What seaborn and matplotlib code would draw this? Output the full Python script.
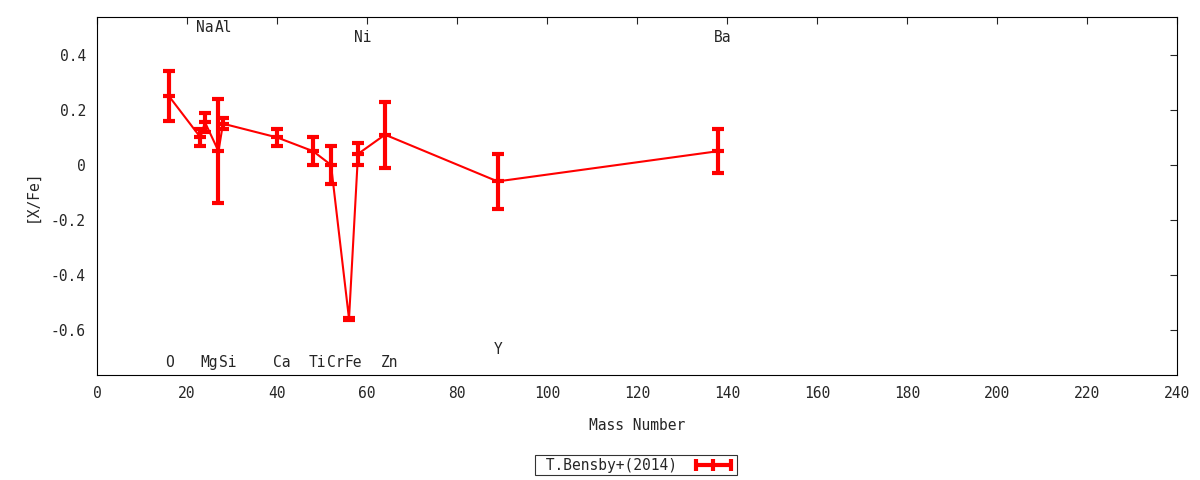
import numpy as np
import pandas as pd
import matplotlib
matplotlib.use("Agg")
import matplotlib.pyplot as plt
import seaborn as sns
from matplotlib.lines import Line2D

# T.Bensby+(2014) abundances
elements = ["O", "Na", "Mg", "Al", "Si", "Ca", "Ti", "Cr", "Fe", "Ni", "Zn", "Y", "Ba"]
mass = [16, 23, 24, 27, 28, 40, 48, 52, 56, 58, 64, 89, 138]
x_fe = [0.25, 0.10, 0.155, 0.05, 0.15, 0.10, 0.05, 0.0, -0.56, 0.04, 0.11, -0.06, 0.05]
x_fe_err = [0.09, 0.03, 0.035, 0.19, 0.02, 0.03, 0.05, 0.07, 0.005, 0.04, 0.12, 0.10, 0.08]
# y position of each element label
label_y = [-0.72, 0.50, -0.72, 0.50, -0.72, -0.72, -0.72, -0.72, -0.72, 0.465, -0.72, -0.67, 0.465]

df = pd.DataFrame({"mass": mass, "xfe": x_fe, "err": x_fe_err, "el": elements})

sns.set_style("white")
plt.rcParams["font.family"] = ["DejaVu Sans Mono"]
plt.rcParams["font.size"] = 10

fig = plt.figure(figsize=(12, 4.8), dpi=100)
ax = fig.add_axes([0.0808, 0.2188, 0.9002, 0.7458])

red = "#ff0000"
sns.lineplot(data=df, x="mass", y="xfe", ax=ax, color=red, lw=1.5, sort=False)
ax.errorbar(df["mass"], df["xfe"], yerr=df["err"], fmt="none", ecolor=red,
            elinewidth=3, capsize=4.3, capthick=3)
ax.plot(df["mass"], df["xfe"], ls="none", marker="_", ms=9, mew=3, color=red)

for el, mx, ly in zip(elements, mass, label_y):
    ax.annotate(el, (mx, ly), xytext=(-3, 0), textcoords="offset points",
                ha="left", va="center", fontsize=10.5)

ax.set_xlim(0, 240)
ax.set_ylim(-0.764, 0.538)
ax.set_xticks(np.arange(0, 241, 20))
ax.set_yticks([-0.6, -0.4, -0.2, 0, 0.2, 0.4])
ax.set_yticklabels(["-0.6", "-0.4", "-0.2", "0", "0.2", "0.4"])
ax.tick_params(direction="in", top=True, right=True, length=5, width=0.8,
               labelsize=10.5, pad=8)
for s in ax.spines.values():
    s.set_linewidth(0.8)
    s.set_color("black")

ax.set_xlabel("Mass Number", fontsize=10.5, labelpad=12)
ax.set_ylabel("[X/Fe]", fontsize=10.5, labelpad=8)

handle = Line2D([0], [0], color=red, lw=3, marker="|", ms=8, mew=3)
leg = fig.legend([handle], [" T.Bensby+(2014)"], loc="center", bbox_to_anchor=(0.53, 0.031),
                 frameon=True, fancybox=False, markerfirst=False, numpoints=3,
                 fontsize=10.5, handlelength=3, borderpad=0.15, handletextpad=1.0,
                 borderaxespad=0)
leg.get_frame().set_edgecolor("black")
leg.get_frame().set_linewidth(0.8)

fig.savefig("out.png", dpi=100)
